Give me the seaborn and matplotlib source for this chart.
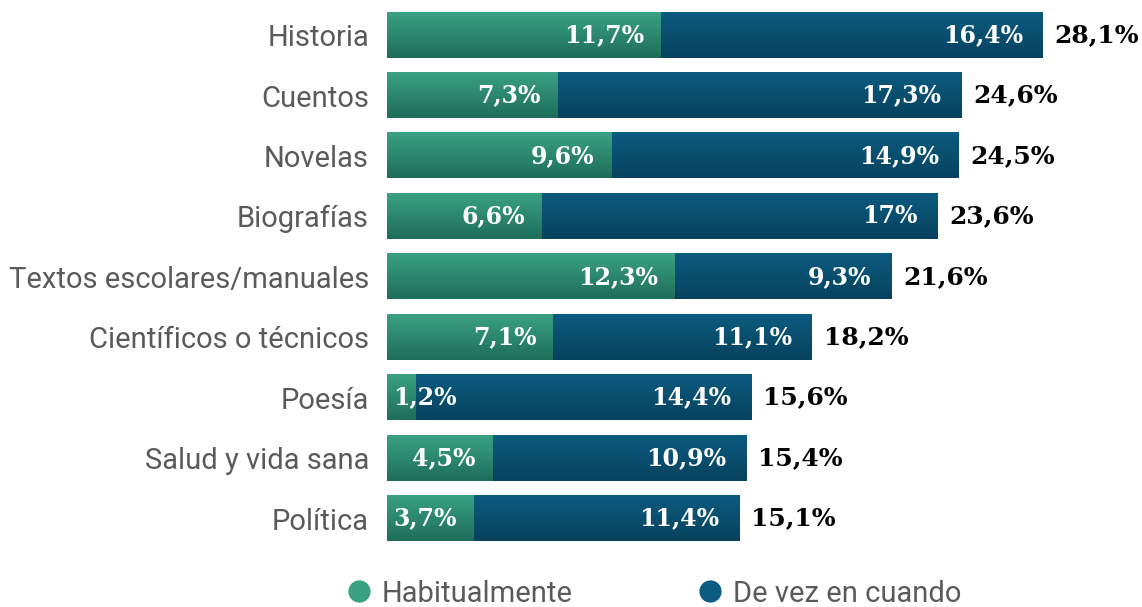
import matplotlib.pyplot as plt
import matplotlib.colors as mcolors
from matplotlib.lines import Line2D
import seaborn as sns
import numpy as np
import pandas as pd

categorias = ['Historia', 'Cuentos', 'Novelas', 'Biografías', 'Textos escolares/manuales',
              'Científicos o técnicos', 'Poesía', 'Salud y vida sana', 'Política']
habitualmente = [11.7, 7.3, 9.6, 6.6, 12.3, 7.1, 1.2, 4.5, 3.7]
de_vez_en_cuando = [16.4, 17.3, 14.9, 17.0, 9.3, 11.1, 14.4, 10.9, 11.4]
totales = [28.1, 24.6, 24.5, 23.6, 21.6, 18.2, 15.6, 15.4, 15.1]

df = pd.DataFrame({'categoria': categorias, 'hab': habitualmente,
                   'vez': de_vez_en_cuando, 'total': totales})

GREEN_TOP, GREEN_BOT = '#3aa182', '#1e6e5a'
BLUE_TOP, BLUE_BOT = '#0c5b80', '#07425e'


def fmt(v):
    s = f'{v:.1f}'.replace('.', ',')
    if s.endswith(',0'):
        s = s[:-2]
    return s + '%'


sns.set_style('white')
plt.rcParams['font.family'] = ['Roboto', 'DejaVu Sans']

fig = plt.figure(figsize=(11.42, 6.07), dpi=100)
ax = fig.add_axes([387 / 1142, 0.096, 1 - 387 / 1142 - 0.007, 0.896])

sns.barplot(data=df, y='categoria', x='total', color=BLUE_TOP, orient='h',
            width=0.745, ax=ax, saturation=1)
sns.barplot(data=df, y='categoria', x='hab', color=GREEN_TOP, orient='h',
            width=0.745, ax=ax, saturation=1)

# gradiente vertical en cada barra
def gradient(top, bot, n=60):
    c0 = np.array(mcolors.to_rgb(top))
    c1 = np.array(mcolors.to_rgb(bot))
    t = np.linspace(0, 1, n)[:, None]
    return (c0 * (1 - t) + c1 * t)[:, None, :]

for cont, (top, bot) in zip(ax.containers, [(BLUE_TOP, BLUE_BOT), (GREEN_TOP, GREEN_BOT)]):
    for bar in cont:
        x0, y0 = bar.get_x(), bar.get_y()
        w, h = bar.get_width(), bar.get_height()
        ax.imshow(gradient(top, bot), extent=[x0, x0 + w, y0 + h, y0], origin='upper',
                  aspect='auto', interpolation='bilinear', zorder=2)
        bar.set_alpha(0)

ax.set_xlim(0, 32)
ax.set_ylim(8.5, -0.5)

lab_font = dict(family=['DejaVu Serif'], fontweight='bold', fontsize=17)
for i, (h, v, t) in enumerate(zip(habitualmente, de_vez_en_cuando, totales)):
    if h < 3:
        ax.text(0.25, i, fmt(h), ha='left', va='center', color='white', zorder=3, **lab_font)
    else:
        ax.text(h - 0.7, i, fmt(h), ha='right', va='center', color='white', zorder=3, **lab_font)
    ax.text(t - 0.85, i, fmt(v), ha='right', va='center', color='white', zorder=3, **lab_font)
    ax.text(t + 0.5, i, fmt(t), ha='left', va='center', color='black', zorder=3,
            family=['DejaVu Serif'], fontweight='bold', fontsize=18)

ax.set_xlabel('')
ax.set_ylabel('')
ax.set_xticks([])
ax.tick_params(axis='y', length=0, pad=13, labelsize=21, labelcolor='#5a5a5a')
for lbl in ax.get_yticklabels():
    lbl.set_y(lbl.get_position()[1])
sns.despine(ax=ax, left=True, bottom=True)

handles = [Line2D([], [], marker='o', linestyle='', markersize=15, color=GREEN_TOP),
           Line2D([], [], marker='o', linestyle='', markersize=15, color=BLUE_TOP)]
fig.legend(handles, ['Habitualmente', 'De vez en cuando'], loc='center',
           bbox_to_anchor=(653 / 1142, 0.022), ncol=2, frameon=False, fontsize=21,
           labelcolor='#5a5a5a', handletextpad=0.3, columnspacing=4.2, handlelength=1.0)

fig.savefig('out.png', dpi=100)
